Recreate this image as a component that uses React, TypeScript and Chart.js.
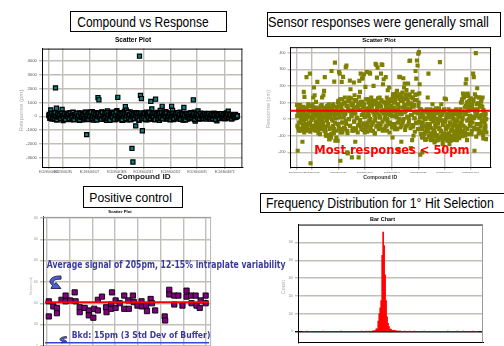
import React, { useEffect, useLayoutEffect, useRef } from 'react';
import { Chart, registerables } from 'chart.js';
Chart.register(...registerables);

// ---------------- DATA ----------------
// Chart 1: Compound vs Response (pm), one value per compound in screening order
const cmpResponses = [
  50, -150, 460, 120, -80, 200, -220, 2050, 580, 30, -120, 180, -60, 90, 490, -310, 140, -180, 60, 230,
  -90, 10, 160, -240, 80, -30, 220, -150, 40, 120, -200, 70, 250, -100, 20, 190, -260, 110, -50, 300,
  -1330, -120, 150, 280, -200, 60, 330, -280, 180, -40, 260, -150, 1350, 1190, 90, -230, 320, 20, -180, 240,
  120, -290, 380, 50, -130, 210, -60, 300, -220, 150, 30, -250, 400, 1370, 120, -170, 260, 80, -300, 200,
  350, 700, 440, -270, 160, -80, 310, -200, -2330, -3310, 90, 250, -700, -150, 180, 40, 4340, 1510, 1280, -1050,
  200, -180, 130, 300, -260, 60, 220, -100, 1070, 530, -230, 170, 20, 1230, -150, 280, 90, -300, 420, 150,
  720, -120, 210, -50, 330, -210, 100, 250, -160, 40, 720, 420, -240, 160, -70, 230, 20, -190, 120, 300,
  -140, 60, -280, 630, 140, -90, 190, -200, 50, 110, -150, 230, -60, 1190, 300, -350, 80, -120, 390, -30,
  150, -180, 40, 120, -90, 200, -40, 90, -160, 130, 10, -210, 170, -70, 60, 220, -130, 30, -330, 110,
  -60, 150, 20, -120, 180, -30, 90, -150, 240, 50, 370, -90, 130, -40, 80, -110, 40, 10, -60, -30,
];
// second replicate readings (plotted between the compounds above)
const cmpResponsesRep = [
  120, -80, 200, -200, 60, -140, 250, 0, -260, 150, -40, 90, -180, 220, 30, -110, 180, -230, 70, -20,
  160, -170, 240, 40, -90, 280, -250, 100, -10, 190, -130, 50, -280, 210, -60, 130, 10, -190, 260, -70,
  80, -220, 170, -30, 300, -150, 20, 230, -100, 140, -270, 60, 200, -50, 110, -210, 270, 0, -120, 180,
  -40, 250, -160, 90, -290, 150, 30, -80, 220, -230, 70, 310, -130, 10, 190, -60, 120, -260, 240, -20,
  160, -190, 40, 280, -110, 100, -240, 210, -30, 130, -170, 60, 250, -70, 170, -280, 20, 230, -140, 90,
  -10, 200, -220, 140, 50, -100, 270, -180, 0, 160, -60, 220, -250, 80, 120, -150, 30, 190, -90, 260,
  -200, 60, 150, -30, 230, -130, 10, 180, -240, 100, -50, 210, -170, 70, 140, -80, 250, -20, 120, -210,
  40, 170, -120, 90, -260, 200, -40, 130, 0, -160, 240, -90, 60, 180, -220, 20, 150, -70, 100, -190,
  210, -30, 80, -140, 160, 10, -200, 120, -60, 190, -110, 50, 140, -180, 30, 90, -230, 170, -10, 110,
  -150, 60, 180, -90, 20, 130, -170, 80, -40, 150, -120, 40, 100, -200, 0, 70, -80, 120, -30, 20,
];
const cmpTickIdx = [0, 15, 43, 72, 100, 129, 157, 186];
const cmpTickLabels = ['ECDSS000001', 'ECDSS00285', 'ECDSS001027', 'ECDSS001806', 'ECDSS002547', 'ECDSS003322', 'ECDSS004091', 'ECDSS004873'];
const cmpYTicks = [-3000, -2000, -1000, 0, 1000, 2000, 3000, 4000];

// Chart 2: Sensor responses (pm)
const sensorResponses = [
  86, -190, 40, -60, 70, -20, 30, 55, -136, 10, 164, 134, -50, 60, 253, -70, 20, 80, -30, 274,
  -265, 50, -40, 90, 130, 190, 144, -60, 104, -20, 224, -70, 60, 0, -90, 80, -40, 130, 20, 144,
  170, 253, -60, 70, -100, 40, -30, 90, -120, 10, 60, 290, -50, 80, -80, 226, 340, 30, -110, 70,
  -130, 110, 284, 274, -250, 40, 224, -80, 254, 20, 100, -60, 313, 323, -200, -206, 60, 130, 232, 180,
  86, -230, 40, -70, 220, 144, -136, 110, 10, 70, -40, -230, 230, 164, 274, -60, 244, 250, 30, 270,
  -80, 194, 60, 284, -30, 120, 20, 280, 274, -70, 90, 110, -20, 200, 50, -86, 333, 326, 250, 310,
  80, -40, 130, 10, 274, 330, 326, 210, 240, -60, 100, 253, 30, -70, 174, 60, 190, -20, 120, 40,
  -50, -110, 150, 70, -30, 110, 20, 160, -60, 90, -186, 254, 253, 40, -136, 130, -20, 246, 190, 214,
  150, 60, -40, 120, 214, 10, 350, 353, -174, 80, -126, 130, -100, 40, -76, 290, 244, 353, 323, 393,
  403, 210, -214, 60, -40, -200, 20, -90, 50, -120, 0, -60, 40, 130, 274, -100, -30, 60, -126, 10,
  90, -80, 20, -140, -40, 66, -100, 0, -126, 40, -60, 343, -110, 90, 34, -150, -20, 60, 124, -106,
  120, -50, -130, 30, -90, -150, 50, -30, -126, 20, -70, -120, 40, -10, -100, 60, -126, -40, 10, -80,
  50, -60, 100, -20, -102, 154, 130, 40, -80, 214, 240, -126, 154, 104, 60, -40, 120, 0, -70, 90,
  274, 253, -190, 50, 397, 20, 186, -60, 94, 130, 10, -30, 80, -80, 130, -116, 40, -20, -60, -120,
];
// second and third readings per well (plotted between the wells above)
const sensorResponsesRep = [
  -40, 60, -70, 20, 85, -10, -60, 40, 0, 75, -80, 30, -30, 65, 10, -50, 90, -20, 50, -75,
  15, 80, -45, 5, 55, -65, 35, -15, 70, -35, 25, -85, 60, -5, 45, -55, 85, 0, -25, 65,
  -70, 40, -100, 10, 80, -40, 55, -120, 20, 70, -90, 30, -10, 90, -60, 45, -130, 5, 75, -30,
  100, -50, 30, 120, -80, 60, -20, 90, 10, -60, 130, 40, -30, 80, -85, 110, 0, 50, -40, 125,
  20, -70, 95, 35, -15, 70, -55, 115, 5, -80, 60, 135, -25, 85, -45, 25, 105, -65, 45, 15,
  -35, 120, 65, -75, 30, 100, -10, 55, -50, 130, 75, -20, 40, 110, -85, 10, 90, -40, 60, 125,
  -60, 20, 80, -30, 115, 50, -70, 35, 100, 0, -45, 70, 130, -15, 45, 95, -80, 25, 110,
  60, -40, 150, 20, 100, -60, 130, 40, 170, -20, 80, 0, 140, -50, 110, 30, 160, -10, 70, 120,
  -65, 50, 175, 10, 90, -30, 150, 60, -55, 130, 25, 165, -45, 85, 5, 145, -20, 115, 40, -60, 100, 155, 10,
  -60, 30, -110, -20, 50, -90, 0, -125, -40, 60, -75, 10, -105, -30, 40, -120, -55, 20, -95, -10,
  55, -80, -130, -25, 35, -100, -50, 65, -115, -5, -70, 25, -125, -35, 45, -90, -15, -60, 15, -110,
  -45, 60, -85, -20, -130, 30, -65, -100, 5, -40, 50, -120, -75, -10, -95, 40, -55, -115, 20,
  40, -80, 120, 10, -40, 150, 70, -100, 30, 100, -60, 140, 0, 80, -20, 125, -90, 55, 15, 110,
  -50, 150, 35, -105, 90, 60, -30, 130, -70, 20, 105, -10, 75, -95, 45, 0, -50, 30, -80,
];
const sensorResponsesRep2 = [
  20, -50, 60, -20, 40, -70, 10, 55, -35, 70, -10, -60, 35, 0, 65, -45, 25, -65, 50, -25,
  45, -5, -55, 30, 70, -40, 15, -70, 55, -15, 40, -50, 5, 65, -30, 25, -60, 50, -20, 10,
  -45, 60, -80, 30, -10, 55, -95, 15, -60, 40, -110, 0, 65, -40, -85, 20, -20, 50, -70, 35,
  40, -30, 90, 10, -60, 70, 120, -20, 50, -50, 100, 30, -10, 80, -70, 60, 0, 110, -40, 45,
  20, 85, -55, 65, -15, 115, 35, -65, 75, 5, 95, -35, 55, -5, 105, -45, 25, 70, -25, 90,
  15, -60, 60, 120, -20, 40, -50, 80, 0, 100, -35, 50, -70, 90, 25, -10, 110, -45, 65, 35,
  -25, 95, 10, -55, 75, 45, -15, 105, -65, 55, 20, 85, -40, 0, 115, 30, -30, 70, 60,
  80, 20, 130, -30, 100, 50, -50, 140, 10, 90, 60, -20, 120, 30, 150, -40, 70, 110, 0, 85,
  40, -45, 135, 65, 15, 105, -10, 145, 55, 25, 95, -35, 125, 75, 5, 115, 45, -25, 150, 35, 80, -15, 60,
  -20, -90, 30, -60, -110, 10, -40, -80, 45, -120, -30, -70, 20, -100, -50, 0, -85, -125, -15, 35,
  -65, -105, 5, -45, -95, 40, -25, -115, -55, 15, -75, -10, -100, -35, 50, -85, -120, -5, -60, 25,
  -40, -90, 10, -110, -20, -70, 45, -50, -125, 0, -80, -30, 30, -100, -60, -15, -95, 20, -45,
  60, -30, 100, 0, -70, 130, 30, -50, 80, 140, -10, 50, -90, 110, 20, -40, 90, 70, -20, 120,
  5, -60, 60, 135, -30, 40, 95, -85, 10, 75, -45, 115, 25, -15, 55, -70, 20, -40, 0,
];
const sensorTickIdx = [0, 22, 61, 100, 140, 179, 218, 256];
const sensorYTicks = [-200, -100, 0, 100, 200, 300, 400];
const sensorThreshold = 50;

// Chart 3: Positive control (plate position, response pm)
const ctrlX = [
  0.4, 0.4, 1.4, 2.2, 2.2, 3.2, 4.1, 4.1, 5.1, 6.1, 6.3, 7.2, 7.2, 8.3, 9.2, 9.2, 10.2, 10.4, 11.2, 11.2,
  12.1, 13.0, 13.1, 14.1, 14.1, 14.3, 15.1, 15.1, 16.0, 17.0, 17.0, 17.9, 18.0, 18.9, 19.1, 19.9, 20.8, 20.9, 21.8, 22.0,
  22.8, 23.1, 23.8, 25.9, 26.0, 26.9, 26.9, 28.0, 28.0, 28.9, 29.8, 30.7, 30.7, 31.7, 31.8, 32.7, 32.9, 33.6, 33.8, 34.9, 34.9,
];
const ctrlY = [
  209, 138, 185, 178, 153, 216, 236, 209, 213, 251, 209, 181, 158, 178, 166, 143, 132, 174, 166, 216,
  231, 181, 158, 194, 174, 251, 213, 178, 200, 236, 174, 213, 174, 236, 205, 189, 209, 185, 189, 163,
  220, 200, 166, 138, 119, 263, 241, 236, 194, 236, 189, 259, 231, 236, 200, 236, 189, 178, 213, 236, 200,
];
const ctrlGridX = [0, 5, 10, 15, 20, 25, 30, 35];
const ctrlYTicks = [0, 100, 200, 300, 400, 500, 600];
const avgSignal = 205;
const bkdSignal = 15;

// Chart 4: Frequency distribution (counts per bin)
const histBinStart = -415;
const histBinWidth = 5;
const histCounts = [
  0, 0, 0, 0, 3, 0, 0, 0, 0, 0, 0, 0, 0, 0, 0, 0, 0, 0, 0, 0,
  0, 2, 0, 0, 0, 0, 0, 0, 0, 0, 0, 0, 0, 0, 0, 0, 0, 0, 0, 3,
  0, 0, 0, 0, 0, 0, 0, 0, 0, 0, 0, 0, 0, 0, 0, 0, 0, 0, 0, 0,
  3, 0, 0, 0, 0, 2, 0, 0, 3, 0, 0, 4, 5, 5, 6, 16, 16, 60, 100, 134,
  174, 428, 558, 482, 319, 174, 83, 47, 29, 15, 15, 8, 8, 6, 8, 5, 4, 4, 3, 4,
  3, 0, 0, 0, 3, 0, 0, 0, 0, 2, 0, 0, 0, 0, 3, 0, 0, 0, 0, 0,
  0, 0, 0, 0, 2, 0, 0, 0, 0, 0, 0, 0, 0, 0, 0, 0, 0, 0, 0, 0,
  0, 0, 0, 0, 0, 0, 0, 0, 3, 0, 0, 0, 0, 0, 0, 0, 0, 0, 3, 0,
  0, 0, 0, 0, 2, 0, 0, 0, 0, 0, 0, 0, 0, 0, 3, 0, 0, 0, 0, 0,
];
const histYTicks = [0, 100, 200, 300, 400, 500];

// ---------------- STYLE ----------------
const SANS = '"Liberation Sans", Arial, sans-serif';
const VERD = '"DejaVu Sans", Verdana, sans-serif';
const GRID = '#c2bfb8';
const TEAL = '#0b7f80';
const OLIVE = '#808000';
const PURPLE = '#800080';
const RED = '#ff0000';
const NAVY = '#3b3b9e';
Chart.defaults.font.family = SANS;

function place(L: number, T: number, R: number, B: number, axisW: number, axisH: number, padT: number, padR: number) {
  const left = Math.floor(L - axisW), top = Math.floor(T - padT);
  const right = Math.ceil(R + padR), bottom = Math.ceil(B + axisH);
  return { left, top, width: right - left, height: bottom - top, axisW: L - left, axisH: bottom - B, padT: T - top, padR: right - R };
}

type Box = ReturnType<typeof place>;

const framePlugin = (c: { top?: string; right?: string; bottom?: string; left?: string }, w = 1) => ({
  id: 'frame',
  afterDatasetsDraw(chart: any) {
    const { ctx, chartArea: a } = chart;
    ctx.save();
    ctx.lineWidth = w;
    const seg = (col: string | undefined, x1: number, y1: number, x2: number, y2: number) => {
      if (!col) return;
      ctx.strokeStyle = col;
      ctx.beginPath();
      ctx.moveTo(x1, y1);
      ctx.lineTo(x2, y2);
      ctx.stroke();
    };
    seg(c.top, a.left, a.top + 0.5, a.right, a.top + 0.5);
    seg(c.right, a.right - 0.5, a.top, a.right - 0.5, a.bottom);
    seg(c.bottom, a.left, a.bottom - 0.5, a.right, a.bottom - 0.5);
    seg(c.left, a.left + 0.5, a.top, a.left + 0.5, a.bottom);
    ctx.restore();
  },
});

const hlinePlugin = (lines: { value: number; color: string; width: number; inset: number }[]) => ({
  id: 'hlines',
  afterDatasetsDraw(chart: any) {
    const { ctx, chartArea: a, scales } = chart;
    ctx.save();
    lines.forEach((l) => {
      const py = scales.y.getPixelForValue(l.value);
      ctx.strokeStyle = l.color;
      ctx.lineWidth = l.width;
      ctx.beginPath();
      ctx.moveTo(a.left + l.inset, py);
      ctx.lineTo(a.right - l.inset, py);
      ctx.stroke();
    });
    ctx.restore();
  },
});

const base = (b: Box) => ({
  animation: false,
  responsive: false,
  maintainAspectRatio: false,
  events: [],
  layout: { padding: { left: 0, top: b.padT, right: b.padR, bottom: 0 } },
  plugins: { legend: { display: false }, tooltip: { enabled: false }, title: { display: false } },
});

const cmpPoint = { pointStyle: 'rect', pointRadius: 2.9, backgroundColor: TEAL, borderColor: '#000', borderWidth: 1.2 };
const sensorPoint = { pointStyle: 'rect', pointRadius: 2.9, backgroundColor: OLIVE, borderWidth: 0 };

// ---------------- CHART CONFIGS ----------------
const box1 = place(42, 46, 245, 167, 20, 11, 3, 3);
const make1 = (b: Box) => ({
  type: 'scatter',
  data: {
    datasets: [
      { ...cmpPoint, borderWidth: 1.6, data: cmpResponsesRep.map((y, i) => ({ x: i + 0.5, y })) },
      { ...cmpPoint, data: cmpResponses.map((y, i) => ({ x: i, y })) },
    ],
  },
  options: {
    ...base(b),
    scales: {
      x: {
        type: 'linear', min: -7.3, max: 205,
        afterBuildTicks: (s: any) => { s.ticks = cmpTickIdx.map((v) => ({ value: v })); },
        afterFit: (s: any) => { s.height = b.axisH; },
        ticks: { callback: (_v: any, i: number) => cmpTickLabels[i] ?? '', font: { size: 2.9 }, color: '#555', maxRotation: 0, autoSkip: false, padding: 1 },
        grid: { color: GRID, lineWidth: 1.4, tickLength: 2 },
        border: { color: '#000', width: 1 },
      },
      y: {
        min: -3670, max: 4890,
        afterBuildTicks: (s: any) => { s.ticks = cmpYTicks.map((v) => ({ value: v })); },
        afterFit: (s: any) => { s.width = b.axisW; },
        ticks: { callback: (v: any) => String(v), font: { size: 4.3 }, color: '#555', padding: 2 },
        grid: { color: GRID, lineWidth: 1.4, tickLength: 3 },
        border: { color: '#000', width: 1 },
      },
    },
  },
  plugins: [framePlugin({ top: '#000', right: '#222' })],
});

const box2 = place(290.5, 46.7, 491, 167.7, 20, 9, 3, 4);
const make2 = (b: Box) => ({
  type: 'scatter',
  data: {
    datasets: [
      { ...sensorPoint, data: sensorResponsesRep2.map((y, i) => ({ x: i + 0.25, y })) },
      { ...sensorPoint, data: sensorResponsesRep.map((y, i) => ({ x: i + 0.6, y })) },
      { ...sensorPoint, data: sensorResponses.map((y, i) => ({ x: i, y })) },
    ],
  },
  options: {
    ...base(b),
    scales: {
      x: {
        type: 'linear', min: -9.6, max: 286.4,
        afterBuildTicks: (s: any) => { s.ticks = sensorTickIdx.map((v) => ({ value: v })); },
        afterFit: (s: any) => { s.height = b.axisH; },
        ticks: { callback: (_v: any, i: number) => cmpTickLabels[i] ?? '', font: { size: 2.4 }, color: '#666', maxRotation: 0, autoSkip: false, padding: 1 },
        grid: { color: GRID, lineWidth: 1.4, tickLength: 2 },
        border: { color: '#000', width: 1 },
      },
      y: {
        min: -292, max: 433,
        afterBuildTicks: (s: any) => { s.ticks = sensorYTicks.map((v) => ({ value: v })); },
        afterFit: (s: any) => { s.width = b.axisW; },
        ticks: { callback: (v: any) => String(v), font: { size: 3.6 }, color: '#555', padding: 2 },
        grid: { color: GRID, lineWidth: 1.4, tickLength: 3 },
        border: { color: '#000', width: 1 },
      },
    },
  },
  plugins: [
    hlinePlugin([{ value: sensorThreshold, color: RED, width: 2, inset: 0 }]),
    framePlugin({ top: '#000', right: '#000' }),
  ],
});

const box3 = place(43, 215.5, 213, 346.5, 14, 8, 3, 3);
const make3 = (b: Box) => ({
  type: 'scatter',
  data: {
    datasets: [{
      data: ctrlX.map((x, i) => ({ x, y: ctrlY[i] })),
      pointStyle: 'rect', pointRadius: 3.7, backgroundColor: PURPLE, borderColor: '#000', borderWidth: 0.9,
    }],
  },
  options: {
    ...base(b),
    scales: {
      x: {
        type: 'linear', min: -0.87, max: 36.1,
        afterBuildTicks: (s: any) => { s.ticks = ctrlGridX.map((v) => ({ value: v })); },
        afterFit: (s: any) => { s.height = b.axisH; },
        ticks: { display: false },
        grid: { color: GRID, lineWidth: 1.4, tickLength: 2 },
        border: { color: '#888', width: 1 },
      },
      y: {
        min: -3, max: 605,
        afterBuildTicks: (s: any) => { s.ticks = ctrlYTicks.map((v) => ({ value: v })); },
        afterFit: (s: any) => { s.width = b.axisW; },
        ticks: { callback: (v: any) => String(v), font: { size: 2.6 }, color: '#999', padding: 2 },
        grid: { color: GRID, lineWidth: 1.4, tickLength: 3 },
        border: { color: '#333', width: 1 },
      },
    },
  },
  plugins: [
    hlinePlugin([
      { value: avgSignal, color: RED, width: 2, inset: 2 },
      { value: bkdSignal, color: '#3348d8', width: 1.5, inset: 2 },
    ]),
    framePlugin({ top: '#9a9a9a', right: '#b5b5b5' }),
  ],
});

const box4 = place(298, 224, 483, 345, 14, 1, 3, 3);
const make4 = (b: Box) => ({
  type: 'bar',
  data: {
    datasets: [{
      data: histCounts.map((c, i) => ({ x: histBinStart + (i + 0.5) * histBinWidth, y: c })),
      backgroundColor: RED, borderWidth: 0, barPercentage: 1, categoryPercentage: 1,
    }],
  },
  options: {
    ...base(b),
    scales: {
      x: {
        type: 'linear', min: histBinStart, max: histBinStart + histCounts.length * histBinWidth,
        afterFit: (s: any) => { s.height = b.axisH; },
        ticks: { display: false, stepSize: 45 },
        grid: { display: false },
        border: { color: '#000', width: 1 },
      },
      y: {
        min: -60, max: 600,
        afterBuildTicks: (s: any) => { s.ticks = histYTicks.map((v) => ({ value: v })); },
        afterFit: (s: any) => { s.width = b.axisW; },
        ticks: { callback: (v: any) => String(v), font: { size: 2.6 }, color: '#888', padding: 2 },
        grid: { color: (c: any) => (c.tick && c.tick.value === 0 ? '#111' : GRID), lineWidth: 1.4, tickLength: 3 },
        border: { color: '#000', width: 1 },
      },
    },
  },
  plugins: [framePlugin({ top: '#000', right: '#9a9a9a' })],
});

// ---------------- COMPONENTS ----------------
function ChartCanvas({ box, make }: { box: Box; make: (b: Box) => any }) {
  const ref = useRef<HTMLCanvasElement>(null);
  useEffect(() => {
    const ch = new Chart(ref.current as HTMLCanvasElement, make(box));
    return () => ch.destroy();
  }, []);
  return (
    <canvas
      ref={ref}
      width={box.width}
      height={box.height}
      style={{ position: 'absolute', left: box.left, top: box.top, width: box.width, height: box.height }}
    />
  );
}

type TP = {
  text: string; x: number; y: number; size: number; w?: number;
  align?: 'left' | 'center'; rot?: boolean; color?: string; weight?: any; family?: string;
};
function Text(p: TP) {
  const ref = useRef<HTMLDivElement>(null);
  const R = Math.max(p.size, 12);
  const k = p.size / R;
  const tf = (kx: number) => {
    const inner = p.rot ? 'translate(-50%,-50%)' : `translate(${p.align === 'center' ? '-50%' : '0'}, ${-0.846 * R}px)`;
    return `translate(${p.x}px, ${p.y}px) ${p.rot ? 'rotate(-90deg) ' : ''}scale(${kx}, ${k}) ${inner}`;
  };
  useLayoutEffect(() => {
    const el = ref.current;
    if (!el || !p.w) return;
    const nat = el.offsetWidth;
    if (nat > 0) el.style.transform = tf(p.w / nat);
  }, []);
  return (
    <div
      ref={ref}
      style={{
        position: 'absolute', left: 0, top: 0, transformOrigin: '0 0', transform: tf(k),
        fontSize: R + 'px', lineHeight: R + 'px', whiteSpace: 'nowrap',
        fontFamily: p.family ?? SANS, fontWeight: p.weight ?? 'normal', color: p.color ?? '#000',
      }}
    >
      {p.text}
    </div>
  );
}

const frameBox = (l: number, t: number, w: number, h: number): React.CSSProperties => ({
  position: 'absolute', left: l, top: t, width: w, height: h, border: '1px solid #000', boxSizing: 'border-box', background: '#fff',
});

export default function App() {
  return (
    <div style={{ position: 'fixed', left: 0, top: 0, width: 504, height: 346, overflow: 'hidden', background: '#fff' }}>
      <ChartCanvas box={box1} make={make1} />
      <ChartCanvas box={box2} make={make2} />
      <ChartCanvas box={box3} make={make3} />
      <ChartCanvas box={box4} make={make4} />

      {/* title boxes */}
      <div style={frameBox(70, 11, 157, 21)} />
      <div style={frameBox(267, 12, 234, 25)} />
      <div style={frameBox(83, 186, 100, 22)} />
      <div style={frameBox(260, 193, 246, 20)} />

      <Text text="Compound vs Response" x={77.3} y={26.7} size={14} w={131} />
      <Text text="Sensor responses were generally small" x={268} y={26.5} size={15} w={221} />
      <Text text="Positive control" x={89.3} y={201.7} size={13} w={82.4} />
      <Text text="Frequency Distribution for 1° Hit Selection" x={266} y={208.3} size={14} w={227.7} />

      {/* chart sub-titles */}
      <Text text="Scatter Plot" x={133} y={42.3} size={6.5} weight="bold" align="center" />
      <Text text="Scatter Plot" x={379} y={41.7} size={6} weight="bold" align="center" />
      <Text text="Scatter Plot" x={120} y={213.3} size={4.2} weight="bold" align="center" />
      <Text text="Bar Chart" x={382.5} y={220.7} size={5.5} weight="bold" align="center" />

      {/* axis titles */}
      <Text text="Compound ID" x={143.7} y={179.3} size={7.5} weight="bold" align="center" w={54} color="#222" />
      <Text text="Compound ID" x={380.3} y={179.5} size={6} align="center" w={34} color="#333" weight="bold" />
      <Text text="Response (pm)" x={21.3} y={110.5} size={5.5} rot w={42} color="#a8a8a8" />
      <Text text="Response (pm)" x={268.5} y={109} size={5} rot w={38} color="#a8a8a8" />
      <Text text="Response (pm)" x={31} y={286} size={3} rot w={18} color="#b0b0b0" />
      <Text text="Count" x={283} y={287} size={4.5} rot w={14} color="#a8a8a8" />

      {/* annotations */}
      <Text text="Most responses < 50pm" x={314.3} y={155} size={12.5} w={155} weight="bold" family={VERD} color={RED} />
      <Text text="Average signal of 205pm, 12-15% intraplate variability" x={46.7} y={268.3} size={10} w={238.6} weight="bold" family={VERD} color={NAVY} />
      <Text text="Bkd: 15pm (3 Std Dev of Buffer)" x={71.7} y={338.3} size={9} w={139} weight="bold" family={VERD} color={NAVY} />

      <svg width={504} height={346} style={{ position: 'absolute', left: 0, top: 0, pointerEvents: 'none' }}>
        <path
          d="M61 276 C51 275.5 47 281 52.5 285.5 L51 288.5 L61 288.5 L56 282.5 L55 284.5 C51.5 282 53 279 61 279.2 Z"
          fill="#4f5fc9" stroke="#1c1c5c" strokeWidth={0.9}
        />
        <path
          d="M66.5 336.5 C59.5 336.5 58 340.5 62.5 341.3 L61.5 343 L67 341.6 L63.5 339.3 L63.5 340.2 C60.8 339.8 61.3 338.2 66.5 338.2 Z"
          fill="#4f5fc9" stroke="#1c1c5c" strokeWidth={0.7}
        />
      </svg>
    </div>
  );
}
